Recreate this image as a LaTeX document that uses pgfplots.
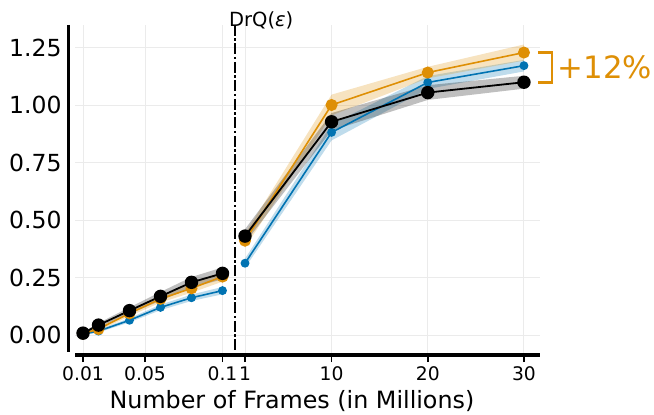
\documentclass[border=0pt]{standalone}
\usepackage{pgfplots}
\usepackage{pgfplotstable}
\pgfplotsset{compat=1.18}
\usepgfplotslibrary{fillbetween}
\usepackage{fontspec}
\setmainfont{DejaVu Sans}

\definecolor{cbBlue}{HTML}{0173B2}
\definecolor{cbOrange}{HTML}{DE8F05}
\definecolor{gridgray}{HTML}{EBEBEB}

% columns: x, mean, std for each method
\pgfplotstableread{
x     blue  bstd   orange ostd   black kstd
0.01  0.004 0.004  0.006  0.005  0.008 0.005
0.02  0.017 0.006  0.026  0.008  0.043 0.009
0.04  0.064 0.009  0.094  0.012  0.106 0.014
0.06  0.120 0.012  0.157  0.016  0.168 0.019
0.08  0.162 0.014  0.203  0.019  0.229 0.023
0.10  0.193 0.016  0.254  0.022  0.268 0.026
}\lowdata
\pgfplotstableread{
x     blue  bstd   orange ostd   black kstd
1     0.312 0.020  0.410  0.030  0.430 0.030
10    0.881 0.035  1.000  0.045  0.927 0.038
20    1.098 0.028  1.141  0.025  1.054 0.032
30    1.171 0.025  1.228  0.035  1.099 0.028
}\highdata

\pgfplotsset{
  brk/.style={
    scale only axis,
    height=330bp,
    ymin=-0.08696, ymax=1.3478,
    ytick={0,0.25,0.5,0.75,1,1.25},
    grid=major,
    grid style={line width=0.9bp, color=gridgray},
    axis x line*=bottom,
    axis y line*=left,
    x axis line style={-, line width=4bp},
    y axis line style={draw=none},
    ytick style={draw=none},
    xtick style={line width=1.6bp, black},
    tick align=outside,
    major tick length=7bp,
    clip=false,
    xticklabel style={font=\fontsize{18.7bp}{22bp}\selectfont, yshift=-1bp},
    yticklabel style={font=\fontsize{23.5bp}{27bp}\selectfont},
    /pgf/number format/assume math mode=true,
  },
  band/.style={draw=none, fill=#1, fill opacity=0.25},
  bandpath/.style={draw=none, forget plot},
  blueline/.style={color=cbBlue, line width=1.6bp, mark=*, mark size=3.6bp, mark options={solid}},
  orangeline/.style={color=cbOrange, line width=1.6bp, mark=*, mark size=5.2bp, mark options={solid}},
  blackline/.style={color=black, line width=1.8bp, mark=*, mark size=5.8bp, mark options={solid}},
}

% mean +/- std bands and lines for one table
\newcommand{\series}[1]{%
  \addplot[bandpath, name path=bu] table[x=x, y expr=\thisrow{blue}+\thisrow{bstd}] {#1};
  \addplot[bandpath, name path=bl] table[x=x, y expr=\thisrow{blue}-\thisrow{bstd}] {#1};
  \addplot[band=cbBlue] fill between[of=bu and bl];
  \addplot[bandpath, name path=ou] table[x=x, y expr=\thisrow{orange}+\thisrow{ostd}] {#1};
  \addplot[bandpath, name path=ol] table[x=x, y expr=\thisrow{orange}-\thisrow{ostd}] {#1};
  \addplot[band=cbOrange] fill between[of=ou and ol];
  \addplot[bandpath, name path=ku] table[x=x, y expr=\thisrow{black}+\thisrow{kstd}] {#1};
  \addplot[bandpath, name path=kl] table[x=x, y expr=\thisrow{black}-\thisrow{kstd}] {#1};
  \addplot[band=black] fill between[of=ku and kl];
  \addplot[blueline] table[x=x, y=blue] {#1};
  \addplot[orangeline] table[x=x, y=orange] {#1};
  \addplot[blackline] table[x=x, y=black] {#1};
}

\begin{document}
\begin{tikzpicture}

% low-data regime (first 100k frames)
\begin{axis}[brk,
  at={(75bp,60bp)}, anchor=south west,
  width=160bp,
  xmin=0.004839, xmax=0.10806,
  xtick={0.01,0.05,0.1},
  xticklabels={0.01,0.05,0.1},
  yticklabel={\pgfmathprintnumber[fixed, fixed zerofill, precision=2]{\tick}},
  yticklabel style={xshift=-3bp},
]
\series{\lowdata}
\draw[line width=3.5bp] ([xshift=-6.5bp]rel axis cs:0,1) -- ([xshift=-6.5bp]rel axis cs:0,0.009);
\end{axis}

% long training runs (millions of frames)
\begin{axis}[brk,
  at={(235bp,60bp)}, anchor=south west,
  width=305bp,
  xmin=-0.04, xmax=31.67,
  xtick={1,10,20,30},
  xticklabels={1,10,20,30},
  yticklabels={},
]
\series{\highdata}
% DrQ(epsilon) boundary
\draw[line width=2bp, dash pattern=on 11bp off 2.5bp on 2.5bp off 2.5bp]
  (axis cs:-0.04,1.3478) -- (axis cs:-0.04,-0.072);
\node[anchor=base west, inner sep=0, font=\fontsize{19.5bp}{23bp}\selectfont]
  at ([xshift=-6bp,yshift=-2bp]axis cs:-0.04,1.3478) {DrQ(\textit{ε})};
% gain of the final orange point over the black one
\draw[cbOrange, line width=2.8bp] (axis cs:31.46,1.228) -- (axis cs:32.91,1.228)
  -- (axis cs:32.91,1.099) -- (axis cs:31.46,1.099);
\node[anchor=west, inner sep=0, text=cbOrange, font=\fontsize{30.8bp}{36bp}\selectfont]
  at (axis cs:33.5,1.1635) {+12\%};
\end{axis}

\node[anchor=base, inner sep=0, font=\fontsize{23.8bp}{28bp}\selectfont] at (292bp,7bp) {Number of Frames (in Millions)};
\pgfresetboundingbox
\path[use as bounding box] (0,0) rectangle (654bp,415bp);
\end{tikzpicture}
\end{document}
